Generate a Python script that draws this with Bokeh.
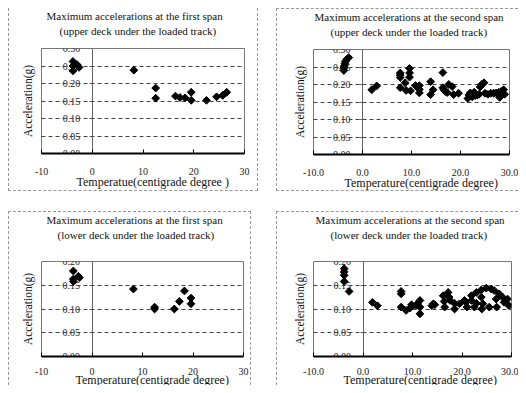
import numpy as np
from bokeh.plotting import figure
from bokeh.layouts import column, row
from bokeh.models import LinearAxis, Title, FixedTicker, PrintfTickFormatter, Range1d, Spacer
from bokeh.embed import file_html
from bokeh.resources import INLINE

FONT = "Liberation Serif"

# ---- data ----
x_ticks = [-10, 0, 10, 20, 30]
y_ticks_upper = [0.0, 0.05, 0.10, 0.15, 0.20, 0.25, 0.30]
y_ticks_lower = [0.0, 0.05, 0.10, 0.15, 0.20]

temp_upper_first = [-3.8, -3.8, -3.8, -3.0, -2.6, 8.2, 12.5, 12.5, 16.4, 17.3, 18.3, 19.5, 19.5, 22.5, 24.5, 25.7, 26.5]
acc_upper_first = [0.263, 0.250, 0.236, 0.254, 0.246, 0.238, 0.187, 0.158, 0.164, 0.160, 0.159, 0.175, 0.152, 0.152, 0.162, 0.166, 0.175]

temp_upper_second = [-3.8, -3.8, -3.8, -3.7, -3.6, -3.5, -3.2, -2.8,
                     1.9, 2.9,
                     7.7, 7.7, 7.7, 7.7, 8.7, 8.9,
                     9.6, 9.6, 9.6, 9.8, 10.8, 11.6, 11.6, 11.6,
                     13.9, 13.9, 14.4,
                     16.4, 16.4, 16.6, 16.9, 17.3, 17.6, 18.3, 18.6, 19.6,
                     21.5, 21.7, 22.0, 22.4, 22.8, 23.0, 23.4, 23.8, 24.0, 24.3, 24.8,
                     25.0, 25.6, 26.2, 26.8, 27.3, 27.8, 28.0, 28.3, 28.8, 29.0]
acc_upper_second = [0.240, 0.246, 0.250, 0.253, 0.260, 0.266, 0.272, 0.277,
                    0.185, 0.196,
                    0.233, 0.227, 0.220, 0.191, 0.205, 0.183,
                    0.246, 0.233, 0.221, 0.182, 0.197, 0.197, 0.186, 0.176,
                    0.208, 0.171, 0.185,
                    0.234, 0.191, 0.185, 0.180, 0.177, 0.200, 0.194, 0.171, 0.175,
                    0.160, 0.170, 0.176, 0.165, 0.178, 0.168, 0.170, 0.172, 0.193, 0.200, 0.205,
                    0.175, 0.172, 0.175, 0.175, 0.176, 0.178, 0.163, 0.180, 0.185, 0.172]

temp_lower_first = [-3.7, -3.7, -3.7, -2.7, -2.5, 8.2, 12.4, 12.4, 16.3, 17.3, 18.3, 19.6, 19.6]
acc_lower_first = [0.180, 0.163, 0.158, 0.169, 0.166, 0.142, 0.104, 0.100, 0.100, 0.116, 0.138, 0.123, 0.111]

temp_lower_second = [-3.8, -3.8, -3.8, -3.8, -2.8,
                     1.9, 2.9,
                     7.7, 7.7, 7.7,
                     8.7, 9.5, 9.8, 10.7, 11.0, 11.5, 11.5, 11.5,
                     13.9, 14.2, 14.5,
                     16.2, 16.4, 16.5, 17.2, 17.4, 17.6, 18.5, 18.5, 19.5,
                     20.5, 20.8, 21.0, 21.9, 21.9, 22.5, 22.9, 22.9, 23.9, 23.9, 24.0, 24.2, 24.9,
                     25.5, 25.9, 26.5, 26.9, 27.0, 27.5, 28.2, 28.5, 29.2, 29.5]
acc_lower_second = [0.185, 0.178, 0.171, 0.158, 0.137,
                    0.114, 0.107,
                    0.137, 0.132, 0.104,
                    0.097, 0.102, 0.109, 0.107, 0.111, 0.118, 0.104, 0.090,
                    0.107, 0.111, 0.109,
                    0.128, 0.116, 0.104, 0.135, 0.125, 0.118, 0.112, 0.100, 0.111,
                    0.118, 0.114, 0.104, 0.128, 0.118, 0.104, 0.135, 0.112, 0.140, 0.125, 0.100, 0.111, 0.144,
                    0.104, 0.142, 0.139, 0.121, 0.104, 0.132, 0.125, 0.114, 0.121, 0.107]

titles = [
    ("Maximum accelerations at the first span", "(upper deck under the loaded track)"),
    ("Maximum accelerations at the second span", "(upper deck under the loaded track)"),
    ("Maximum accelerations at the first span", "(lower deck under the loaded track)"),
    ("Maximum accelerations at the second span", "(lower deck under the loaded track)"),
]
x_labels = [
    "Temperatue(centigrade degree )",
    "Temperature(centigrade degree)",
    "Temperature(centigrade degree)",
    "Temperature(centigrade degree)",
]
y_label = "Acceleration(g)"


def make_panel(title, xlabel, temps, accs, ymax, yticks, xfmt, width, height, bl, br, bt, bb,
               border_css, gap, toff1, toff2, tick_sd, xl_off, xl_sd):
    p = figure(width=width, height=height, x_range=Range1d(-10, 30), y_range=Range1d(0, ymax),
               output_backend="svg", toolbar_location=None, title=None,
               min_border_left=bl, min_border_right=br, min_border_top=bt, min_border_bottom=bb,
               background_fill_color="white", border_fill_color="white",
               outline_line_color="#777777", outline_line_width=1)
    p.styles = border_css

    # blank spacer title next to the plot area, then the two title lines
    p.add_layout(Title(text=" ", text_font=FONT, text_font_size="1px", standoff=gap), "above")
    p.add_layout(Title(text=title[1], align="left", offset=toff2, text_font=FONT,
                       text_font_size="11px", text_font_style="normal", text_color="#111111",
                       standoff=4), "above")
    p.add_layout(Title(text=title[0], align="left", offset=toff1, text_font=FONT,
                       text_font_size="11px", text_font_style="normal", text_color="#111111",
                       standoff=-2), "above")

    # y axis crossing at x = 0
    ya = p.yaxis[0]
    ya.fixed_location = 0
    ya.ticker = FixedTicker(ticks=yticks)
    ya.formatter = PrintfTickFormatter(format="%.2f")
    ya.axis_line_color = "#666666"
    ya.major_tick_line_color = "#666666"
    ya.major_tick_out = 3
    ya.major_tick_in = 0
    ya.minor_tick_line_color = None
    ya.major_label_standoff = 9
    ya.major_label_text_font = FONT
    ya.major_label_text_font_size = "10px"
    ya.major_label_text_color = "#222222"
    ya.level = "underlay"

    # separate axis only for the label at the left of the plot area
    lab = LinearAxis(ticker=FixedTicker(ticks=[]), axis_label=y_label,
                     axis_line_color=None, major_tick_line_color=None, minor_tick_line_color=None,
                     axis_label_text_font=FONT, axis_label_text_font_size="11.5px",
                     axis_label_text_font_style="normal", axis_label_text_color="#111111",
                     axis_label_standoff=8)
    p.add_layout(lab, "left")

    xa = p.xaxis[0]
    xa.ticker = FixedTicker(ticks=x_ticks)
    xa.formatter = PrintfTickFormatter(format=xfmt)
    xa.axis_line_color = "black"
    xa.axis_line_width = 2
    xa.major_tick_line_color = "black"
    xa.major_tick_in = 4
    xa.major_tick_out = 0
    xa.minor_tick_line_color = None
    xa.major_label_standoff = tick_sd
    xa.major_label_text_font = FONT
    xa.major_label_text_font_size = "10px"
    xa.major_label_text_color = "#222222"

    # x axis title, placed like the original (a little right of centre)
    p.add_layout(Title(text=xlabel, align="left", offset=xl_off, vertical_align="top",
                       text_font=FONT, text_font_size="12px", text_font_style="normal",
                       text_color="#111111", standoff=xl_sd), "below")

    p.xgrid.visible = False
    p.ygrid.grid_line_color = "#444444"
    p.ygrid.grid_line_dash = "4 3"
    p.ygrid.grid_line_width = 1

    p.scatter(temps, accs, marker="square", angle=np.pi / 4, size=5.5,
              fill_color="black", line_color="black")
    return p


b = "1px dashed #999999"
p1 = make_panel(titles[0], x_labels[0], temp_upper_first, acc_upper_first, 0.30, y_ticks_upper, "%d",
                250, 183, 32, 15, 40, 38,
                {"border-left": b, "border-right": b, "border-bottom": b, "box-sizing": "border-box"},
                7, 5, 18, 14, 35, -6)
p2 = make_panel(titles[1], x_labels[1], temp_upper_second, acc_upper_second, 0.30, y_ticks_upper, "%.1f",
                242, 183, 36, 10, 40, 38,
                {"border-left": b, "border-top": b, "border-bottom": b, "box-sizing": "border-box"},
                7, 1, 17, 14, 31, -6)
p3 = make_panel(titles[2], x_labels[2], temp_lower_first, acc_lower_first, 0.20, y_ticks_lower, "%d",
                243, 174, 32, 9, 49, 30,
                {"border-left": b, "border-right": b, "border-top": b, "box-sizing": "border-box"},
                16, 5, 16, 11, 34, -10)
p4 = make_panel(titles[3], x_labels[3], temp_lower_second, acc_lower_second, 0.20, y_ticks_lower, "%.1f",
                242, 174, 36, 8, 49, 30,
                {"border-left": b, "border-top": b, "box-sizing": "border-box"},
                16, 2, 17, 11, 30, -10)

layout = column(
    Spacer(height=8),
    row(Spacer(width=8), p1, Spacer(width=18), p2),
    Spacer(height=20),
    row(Spacer(width=8), p3, Spacer(width=25), p4),
)

open("out.html", "w").write(file_html(layout, INLINE))
